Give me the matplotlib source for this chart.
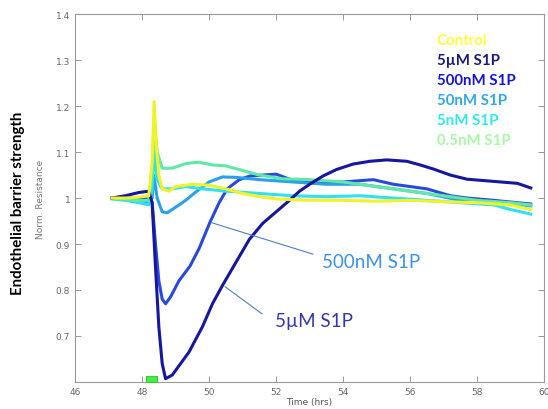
import matplotlib
matplotlib.use("Agg")
import matplotlib.pyplot as plt
from matplotlib.patches import Rectangle

# Normalised resistance traces (time in hrs)
ctrl_t = [47.1, 47.5, 47.9, 48.2, 48.3, 48.36, 48.42, 48.5, 48.6, 48.8, 49.0, 49.5, 50.0, 50.5, 51.0,
          51.5, 52.0, 53.0, 54.0, 55.0, 56.0, 57.0, 58.0, 59.0, 59.6]
ctrl_r = [1.0, 1.0, 1.002, 1.005, 1.08, 1.21, 1.12, 1.05, 1.02, 1.015, 1.025, 1.03, 1.028, 1.02, 1.01,
          1.003, 0.998, 0.995, 0.995, 0.993, 0.995, 0.992, 0.99, 0.985, 0.975]

um5_t = [47.1, 47.5, 47.9, 48.2, 48.3, 48.4, 48.5, 48.6, 48.7, 48.9, 49.1, 49.4, 49.8, 50.1, 50.4,
         50.8, 51.2, 51.6, 52.0, 52.4, 52.7, 53.0, 53.4, 53.8, 54.3, 54.8, 55.3, 55.9, 56.3, 56.7,
         57.2, 57.7, 58.2, 58.7, 59.2, 59.6]
um5_r = [1.0, 1.005, 1.012, 1.015, 0.99, 0.85, 0.72, 0.64, 0.607, 0.615, 0.635, 0.665, 0.72, 0.77, 0.81,
         0.86, 0.91, 0.945, 0.97, 0.995, 1.015, 1.03, 1.048, 1.062, 1.074, 1.08, 1.083, 1.08, 1.072, 1.063,
         1.05, 1.041, 1.038, 1.035, 1.032, 1.022]

nm500_t = [47.1, 47.5, 47.9, 48.2, 48.3, 48.4, 48.5, 48.6, 48.7, 48.85, 49.1, 49.43, 49.7, 50.03, 50.3,
           50.54, 50.9, 51.22, 51.6, 52.0, 52.4, 53.0, 54.0, 54.9, 55.5, 56.5, 57.2, 57.7, 58.5, 59.6]
nm500_r = [1.0, 1.003, 1.0, 0.998, 0.99, 0.9, 0.82, 0.78, 0.77, 0.785, 0.82, 0.852, 0.89, 0.948, 0.99,
           1.02, 1.04, 1.048, 1.05, 1.052, 1.041, 1.035, 1.035, 1.04, 1.03, 1.02, 1.005, 1.0, 0.995, 0.987]

nm50_t = [47.1, 47.5, 47.9, 48.2, 48.3, 48.35, 48.45, 48.6, 48.75, 49.0, 49.3, 49.6, 50.0, 50.4, 50.8,
          51.5, 52.5, 53.5, 54.5, 55.5, 56.5, 57.5, 58.5, 59.6]
nm50_r = [1.0, 0.998, 0.995, 0.99, 1.0, 1.05, 1.0, 0.97, 0.968, 0.98, 0.995, 1.013, 1.035, 1.046, 1.045,
          1.04, 1.035, 1.03, 1.03, 1.02, 1.01, 0.995, 0.99, 0.983]

nm5_t = [47.1, 47.5, 47.9, 48.2, 48.3, 48.36, 48.45, 48.6, 48.9, 49.3, 49.8, 50.5, 51.5, 52.5, 53.5,
         54.5, 55.5, 56.5, 57.5, 58.5, 59.0, 59.6]
nm5_r = [0.998, 0.995, 0.99, 0.985, 1.02, 1.1, 1.04, 1.02, 1.02, 1.025, 1.02, 1.015, 1.01, 1.005, 1.003,
         1.005, 1.0, 0.995, 0.99, 0.985, 0.975, 0.965]

nm05_t = [47.1, 47.5, 47.9, 48.2, 48.3, 48.37, 48.45, 48.6, 48.9, 49.3, 49.7, 50.1, 50.5, 51.0, 51.5,
          52.2, 53.0, 54.0, 55.0, 56.0, 57.0, 58.0, 59.0, 59.6]
nm05_r = [1.0, 0.998, 0.995, 0.995, 1.05, 1.16, 1.1, 1.065, 1.065, 1.075, 1.078, 1.072, 1.07, 1.06, 1.05,
          1.042, 1.04, 1.035, 1.025, 1.015, 1.005, 0.995, 0.99, 0.985]

legend_labels = ["Control", "5\u00b5M S1P", "500nM S1P", "50nM S1P", "5nM S1P", "0.5nM S1P"]
legend_colors = ["#ffff40", "#1a1a80", "#1414dd", "#30a8ec", "#30e8ee", "#a8f8a8"]

fig = plt.figure(figsize=(5.48, 4.10), dpi=100)
ax = fig.add_axes([0.137, 0.066, 0.856, 0.897])

lw = 2.2
ax.plot(nm500_t, nm500_r, color="#2848e0", lw=lw)
ax.plot(nm50_t, nm50_r, color="#2aa0ea", lw=lw)
ax.plot(nm5_t, nm5_r, color="#30e2f0", lw=lw)
ax.plot(nm05_t, nm05_r, color="#60e8a8", lw=lw)
ax.plot(um5_t, um5_r, color="#1616a0", lw=lw)
ax.plot(ctrl_t, ctrl_r, color="#f2f22a", lw=lw)

# stimulus marker on the time axis
ax.add_patch(Rectangle((48.12, 0.6), 0.33, 0.013, facecolor="#44ee44", edgecolor="#22cc22",
                       lw=0.6, zorder=5, clip_on=False))

ax.set_xlim(46, 60)
ax.set_ylim(0.6, 1.4)
ax.set_xticks(range(46, 61, 2))
ax.set_yticks([0.7, 0.8, 0.9, 1.0, 1.1, 1.2, 1.3, 1.4])
ax.set_yticklabels(["0.7", "0.8", "0.9", "1", "1.1", "1.2", "1.3", "1.4"])
ax.tick_params(direction="in", length=4, width=0.6, colors="#888888", labelcolor="#666666",
               labelsize=6.5, top=True, right=True)
for s in ax.spines.values():
    s.set_color("#999999")
    s.set_linewidth(0.8)

ax.set_xlabel("Time (hrs)", fontsize=6.5, color="#555555", labelpad=1)
ax.set_ylabel("Norm. Resistance", fontsize=6.5, color="#777777", labelpad=8)
fig.text(0.033, 0.505, "Endothelial barrier strength", rotation=90, fontsize=10.8,
         fontweight="bold", family="Lato", ha="center", va="center")

for i, (lab, col) in enumerate(zip(legend_labels, legend_colors)):
    fig.text(0.797, 0.900 - i * 0.0488, lab, color=col, fontsize=10.8, fontweight="bold",
             family="Lato", ha="left", va="center")

# callouts with leader lines
ax.plot([50.09, 53.1], [0.946, 0.878], color="#4a80c8", lw=0.8)
ax.plot([50.48, 51.58], [0.807, 0.748], color="#4a80c8", lw=0.8)
ax.text(53.37, 0.861, "500nM S1P", fontsize=13.5, color="#3a90e8", family="Lato",
        ha="left", va="center")
ax.text(51.97, 0.733, "5\u00b5M S1P", fontsize=13.5, color="#3535b0", family="Lato",
        ha="left", va="center")

fig.savefig("out.png", dpi=100)
